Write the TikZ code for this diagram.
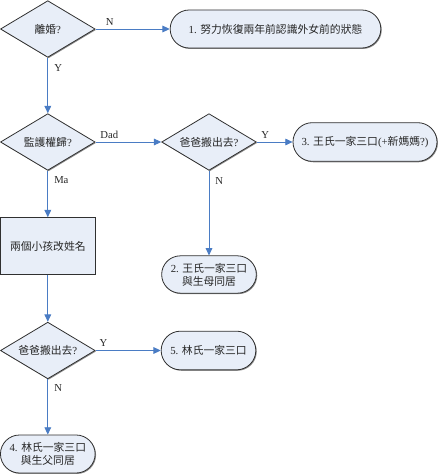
\documentclass[tikz,border=0pt]{standalone}
\usepackage{fontspec}
\setmainfont{Liberation Serif}
\newfontfamily\cjk{Noto Sans CJK TC}
\usetikzlibrary{shapes.geometric,shapes.misc,arrows.meta,shadows}
\definecolor{boxfill}{HTML}{E8EEF8}
\definecolor{linkblue}{HTML}{4A7CC4}
\definecolor{edgegray}{HTML}{303030}
\tikzset{
  base/.style={draw=edgegray, line width=0.6pt, fill=boxfill, font=\fontsize{8.1}{9.6}\selectfont, text=black!85, inner sep=0pt,
    drop shadow={shadow xshift=0.7pt, shadow yshift=-0.7pt, fill=black!45, opacity=1}},
  decision/.style={base, diamond, aspect=1.667, minimum width=71pt, minimum height=42.5pt},
  terminal/.style={base, rounded rectangle, align=center},
  process/.style={base, rectangle, minimum width=71pt, minimum height=42.5pt},
  link/.style={draw=linkblue, line width=0.7pt, -{Triangle[width=5pt,length=5.5pt]}},
  lbl/.style={font=\fontsize{8}{9}\selectfont, text=black!85, inner sep=1.5pt}
}
\begin{document}
\begin{tikzpicture}[x=0.75pt,y=-0.75pt]
\useasboundingbox (0,0) rectangle (445,474);
\node[decision] (d1) at (47.8,29) {{\cjk 離婚}?};
\node[terminal, minimum width=158pt, minimum height=28.5pt] (t1) at (275.5,29) {1. {\cjk 努力恢復兩年前認識外女前的狀態}};
\node[decision] (d2) at (47.8,142) {{\cjk 監護權歸}?};
\node[decision] (d3) at (209,142) {{\cjk 爸爸搬出去}?};
\node[terminal, minimum width=108pt, minimum height=29pt] (t3) at (365,142) {3. {\cjk 王氏一家三口}(+{\cjk 新媽媽}?)};
\node[process] (r1) at (47.8,246) {{\cjk 兩個小孩改姓名}};
\node[terminal, minimum width=71pt, minimum height=28pt] (t2) at (209,274.5) {2. {\cjk 王氏一家三口}\\{\cjk 與生母同居}};
\node[decision] (d4) at (47.8,350.5) {{\cjk 爸爸搬出去}?};
\node[terminal, minimum width=71pt, minimum height=29pt] (t5) at (208.5,350.5) {5. {\cjk 林氏一家三口}};
\node[terminal, minimum width=71pt, minimum height=28.5pt] (t4) at (47.8,454) {4. {\cjk 林氏一家三口}\\{\cjk 與生父同居}};

\draw[link] (d1.east) -- node[lbl, pos=0.19, above=1pt] {N} (t1.west);
\draw[link] (d1.south) -- node[lbl, pos=0.18, right=3pt] {Y} (d2.north);
\draw[link] (d2.east) -- node[lbl, pos=0.21, above=1pt] {Dad} (d3.west);
\draw[link] (d3.east) -- node[lbl, pos=0.24, above=1pt] {Y} (t3.west);
\draw[link] (d3.south) -- node[lbl, pos=0.12, right=3pt] {N} (t2.north);
\draw[link] (d2.south) -- node[lbl, pos=0.21, right=3pt] {Ma} (r1.north);
\draw[link] (r1.south) -- (d4.north);
\draw[link] (d4.east) -- node[lbl, pos=0.12, above=1pt] {Y} (t5.west);
\draw[link] (d4.south) -- node[lbl, pos=0.16, right=3pt] {N} (t4.north);
\end{tikzpicture}
\end{document}
